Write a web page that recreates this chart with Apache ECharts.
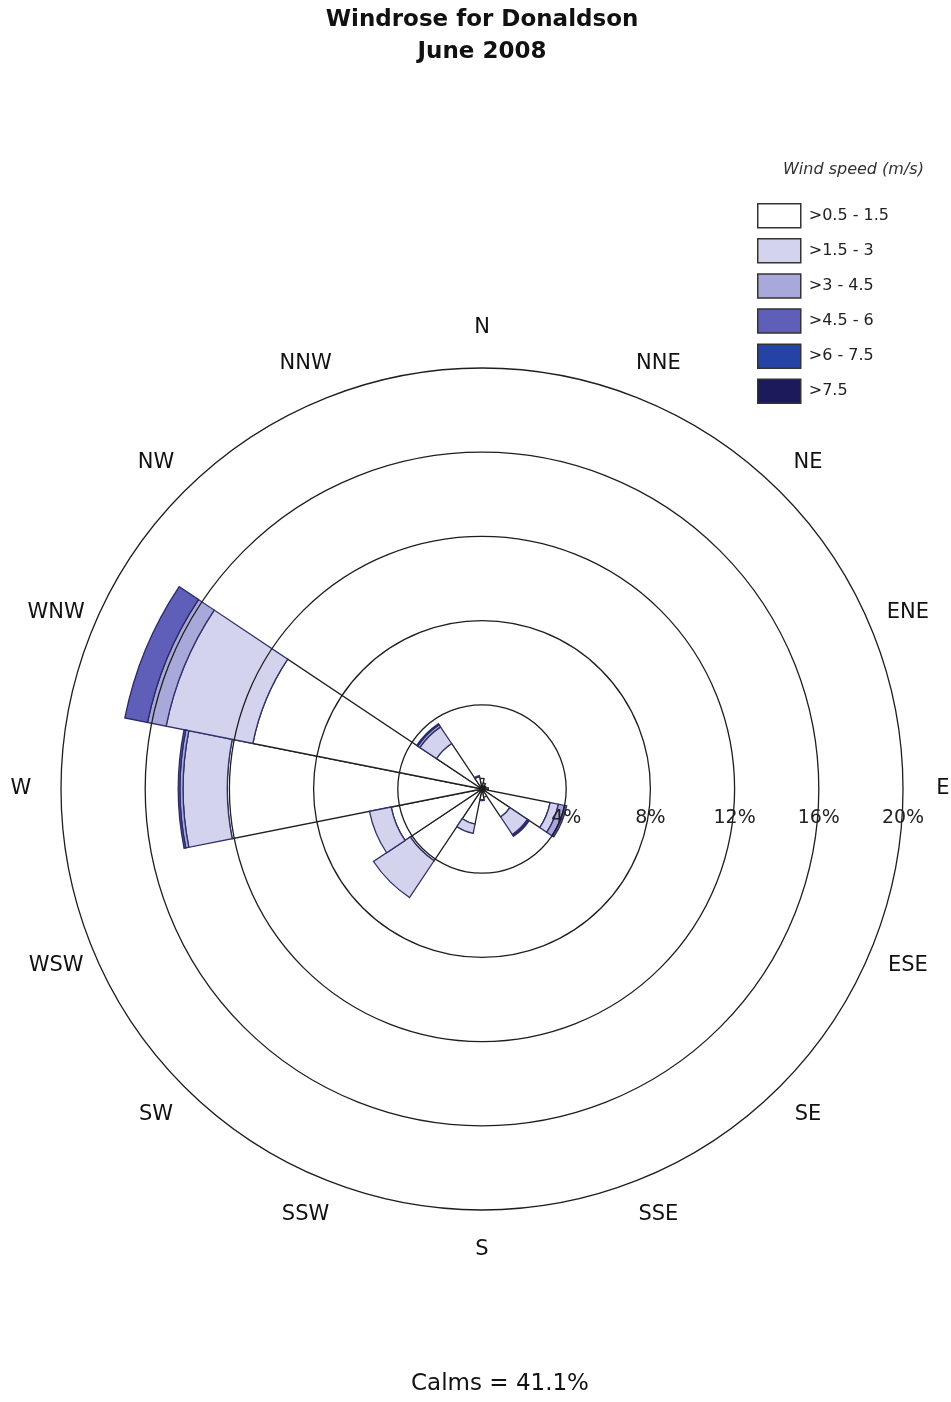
<!DOCTYPE html>
<html>
<head>
<meta charset="utf-8">
<script src="https://cdn.jsdelivr.net/npm/echarts@6/dist/echarts.min.js"></script>
<style>
  html, body { margin: 0; padding: 0; background: #ffffff; }
  #chart { width: 951px; height: 1402px; }
</style>
</head>
<body>
<div id="chart"></div>
<script>
// Compass sectors, clockwise from north
const directions = ['N', 'NNE', 'NE', 'ENE', 'E', 'ESE', 'SE', 'SSE',
                    'S', 'SSW', 'SW', 'WSW', 'W', 'WNW', 'NW', 'NNW'];
// Wind speed classes (m/s)
const speedClasses = ['>0.5 - 1.5', '>1.5 - 3', '>3 - 4.5', '>4.5 - 6', '>6 - 7.5', '>7.5'];
// Frequency of occurrence (%) for each class, per direction
const speed05to15 = [0.5, 0.3, 0.2, 0.2, 0.3, 3.3, 1.6, 0.4, 0.5, 1.7, 4.1, 4.4, 12.1, 11.1, 2.6, 0.6];
const speed15to3  = [0, 0, 0, 0, 0, 0.4, 1.0, 0, 0.05, 0.45, 2.1, 1.05, 2.1, 4.2, 0.95, 0.05];
const speed3to45  = [0, 0, 0, 0, 0, 0.3, 0.05, 0, 0, 0, 0, 0, 0.15, 0.9, 0.12, 0];
const speed45to6  = [0, 0, 0, 0, 0, 0.1, 0.05, 0, 0, 0, 0, 0, 0.08, 1.1, 0.06, 0];
const speed6to75  = [0, 0, 0, 0, 0, 0, 0, 0, 0, 0, 0, 0, 0, 0, 0, 0];
const speedOver75 = [0, 0, 0, 0, 0, 0, 0, 0, 0, 0, 0, 0, 0, 0, 0, 0];
const calms = 41.1;
// Radial scale (%)
const radiusMax = 20;
const radiusStep = 4;
const directionLabelRadius = 21.9;

const classData = [speed05to15, speed15to3, speed3to45, speed45to6, speed6to75, speedOver75];
const classColors = ['#ffffff', '#d3d3ee', '#a8a8db', '#5f5fb9', '#2543a5', '#1b1b5c'];
const classBorders = ['#1e1e1e', '#30306a', '#30306a', '#2a2a64', '#1c1c55', '#10103a'];

const FONT = 'DejaVu Sans';

const barSeries = speedClasses.map((name, k) => ({
  name: name,
  type: 'bar',
  coordinateSystem: 'polar',
  polarIndex: 0,
  stack: 'rose',
  barCategoryGap: '0%',
  data: classData[k].map(v => (v > 0 ? v : '-')),
  itemStyle: { color: classColors[k], borderColor: classBorders[k], borderWidth: 1.3 },
  emphasis: { disabled: true },
  z: 2
}));

// Compass point names placed just outside the outer ring
const directionLabels = {
  type: 'scatter',
  coordinateSystem: 'polar',
  polarIndex: 0,
  clip: false,
  symbol: 'circle',
  symbolSize: 1,
  itemStyle: { color: 'rgba(0,0,0,0)', opacity: 1 },
  silent: true,
  data: directions.map((d, i) => ({ name: d, value: [directionLabelRadius, i] })),
  label: {
    show: true,
    position: 'inside',
    formatter: '{b}',
    fontFamily: FONT,
    fontSize: 21,
    color: '#111111'
  },
  z: 6
};

const chart = echarts.init(document.getElementById('chart'), null, { renderer: 'canvas' });

chart.setOption({
  animation: false,
  backgroundColor: '#ffffff',
  title: [
    {
      text: 'Windrose for Donaldson\nJune 2008',
      left: 482, top: 4, padding: 0,
      textAlign: 'center',
      textStyle: { fontFamily: FONT, fontWeight: 'bold', fontSize: 23, lineHeight: 32, color: '#111111' }
    },
    {
      text: 'Wind speed (m/s)',
      left: 783, top: 162, padding: 0,
      textAlign: 'left',
      textStyle: { fontFamily: FONT, fontStyle: 'italic', fontWeight: 'normal', fontSize: 16, color: '#333333' }
    },
    {
      text: 'Calms = ' + calms + '%',
      left: 500, top: 1373, padding: 0,
      textAlign: 'center',
      textStyle: { fontFamily: FONT, fontWeight: 'normal', fontSize: 23, color: '#111111' }
    }
  ],
  legend: {
    orient: 'vertical',
    left: 757, top: 203, padding: 0,
    itemWidth: 43, itemHeight: 24, itemGap: 9.6,
    icon: 'rect',
    selectedMode: false,
    data: speedClasses,
    itemStyle: { borderColor: '#333333', borderWidth: 1.5 },
    textStyle: { fontFamily: FONT, fontSize: 16, color: '#222222', padding: [0, 0, 0, 3] }
  },
  polar: [
    { center: [482, 789], radius: 421 },
    { center: [482, 789], radius: 421 }
  ],
  angleAxis: [
    {
      polarIndex: 0,
      type: 'category',
      data: directions,
      startAngle: 90 + 180 / directions.length,
      clockwise: true,
      boundaryGap: true,
      axisLine: { show: false },
      axisTick: { show: false },
      axisLabel: { show: false },
      splitLine: { show: false }
    },
    {
      polarIndex: 1,
      type: 'value',
      min: 0, max: 360,
      startAngle: 0,
      show: false
    }
  ],
  radiusAxis: [
    {
      polarIndex: 0,
      type: 'value',
      min: 0, max: radiusMax, interval: radiusStep,
      axisLine: { show: false },
      axisTick: { show: false },
      axisLabel: { show: false },
      splitLine: { show: true, lineStyle: { color: '#1e1e1e', width: 1.3 } },
      z: 5
    },
    {
      polarIndex: 1,
      type: 'value',
      min: 0, max: radiusMax, interval: radiusStep,
      axisLine: { show: false },
      axisTick: { show: false },
      splitLine: { show: false },
      axisLabel: {
        show: true,
        margin: -29,
        align: 'center',
        verticalAlign: 'middle',
        fontFamily: FONT,
        fontSize: 19,
        color: '#222222',
        formatter: v => (v === 0 ? '' : v + '%')
      },
      z: 6
    }
  ],
  series: barSeries.concat([directionLabels])
});
</script>
</body>
</html>
